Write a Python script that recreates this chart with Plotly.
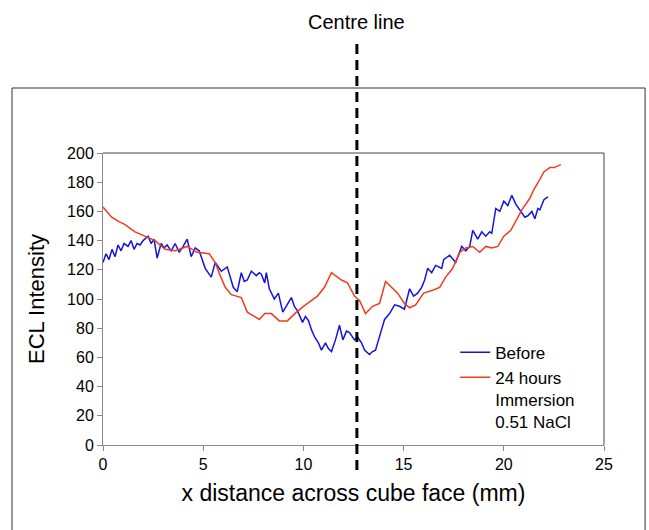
import plotly.graph_objects as go

# Before (blue)
before_x = [0.0, 0.15, 0.3, 0.45, 0.6, 0.75, 0.9, 1.05, 1.25, 1.4, 1.55, 1.7, 1.85, 2.0, 2.25, 2.4, 2.55, 2.7, 2.9, 3.05, 3.2,
            3.4, 3.6, 3.8, 4.0, 4.2, 4.4, 4.6, 4.8, 5.1, 5.4, 5.6, 5.9, 6.2, 6.5, 6.7, 6.9, 7.05, 7.2, 7.4, 7.65, 7.8, 7.9,
            8.07, 8.15, 8.3, 8.55, 8.75, 8.97, 9.2, 9.4, 9.55, 9.7, 9.96, 10.1, 10.26, 10.4, 10.56, 10.75, 10.9, 11.1, 11.25,
            11.4, 11.6, 11.8, 11.97, 12.15, 12.3, 12.55, 12.7, 12.9, 13.05, 13.3, 13.45, 13.6, 13.9, 14.05, 14.3, 14.55,
            14.8, 15.04, 15.3, 15.5, 15.7, 15.9, 16.05, 16.2, 16.4, 16.6, 16.9, 17.0, 17.3, 17.6, 17.9, 18.1, 18.3, 18.45,
            18.7, 18.9, 19.1, 19.3, 19.4, 19.6, 19.8, 20.0, 20.2, 20.4, 20.6, 20.75, 20.9, 21.05, 21.2, 21.4, 21.55, 21.7,
            21.8, 22.0, 22.2]
before_y = [125, 131, 127, 134, 129, 137, 133, 138, 136, 140, 134, 138, 137, 140, 143, 138, 141, 128, 138, 135, 137,
            133, 138, 132, 136, 141, 129, 135, 133, 121, 115, 125, 119, 122, 108, 105, 118, 112, 113, 119, 116, 118, 117,
            111, 118, 107, 100, 104, 91, 96, 101, 95, 92, 84, 88, 85, 79, 74, 70, 65, 70, 66, 64, 72, 82, 72, 78, 77,
            72, 74, 70, 65, 62, 64, 65, 79, 86, 90, 96, 95, 93, 107, 102, 104, 108, 113, 121, 118, 123, 121, 127, 130,
            125, 136, 133, 136, 147, 141, 146, 143, 146, 145, 162, 160, 167, 164, 171, 165, 162, 159, 156, 157, 160,
            155, 162, 161, 168, 170]

# 24 hours immersion (red)
after_x = [0.0, 0.43, 0.8, 1.1, 1.6, 2.1, 2.6, 3.1, 3.6, 4.2, 4.7, 5.3, 5.6, 5.85, 6.1, 6.4, 6.9, 7.2, 7.55, 7.8, 8.07,
           8.4, 8.8, 9.2, 9.65, 10.1, 10.7, 11.05, 11.4, 11.6, 11.9, 12.2, 12.55, 12.8, 13.1, 13.45, 13.8, 14.1, 14.4,
           14.7, 15.04, 15.3, 15.6, 16.0, 16.45, 16.8, 17.1, 17.45, 17.8, 18.1, 18.45, 18.8, 19.1, 19.4, 19.7, 20.0,
           20.35, 20.7, 20.9, 21.3, 21.5, 21.8, 22.0, 22.3, 22.5, 22.85]
after_y = [163, 156, 153, 151, 146, 143, 140, 134, 133, 136, 132, 131, 125, 116, 108, 103, 101, 91, 88, 86, 90,
           90, 85, 85, 91, 96, 102, 108, 118, 116, 113, 111, 102, 99, 90, 95, 97, 112, 108, 104, 97, 94, 96, 104,
           106, 108, 115, 121, 132, 135, 136, 132, 136, 135, 136, 143, 147, 156, 161, 169, 175, 182, 187, 190, 190,
           192]

x_ticks = [0, 5, 10, 15, 20, 25]
y_ticks = [0, 20, 40, 60, 80, 100, 120, 140, 160, 180, 200]
centre_x = 12.67

fig = go.Figure()
fig.add_trace(go.Scatter(x=before_x, y=before_y, mode="lines", name="Before",
                         line=dict(color="#1414dc", width=1.5)))
fig.add_trace(go.Scatter(x=after_x, y=after_y, mode="lines", name="24 hours<br>Immersion<br>0.51 NaCl",
                         line=dict(color="#f03c1e", width=1.5)))

font = "Liberation Sans, Arial, sans-serif"
fig.update_layout(
    width=649, height=530,
    margin=dict(l=103, r=45, t=153, b=85),
    paper_bgcolor="white", plot_bgcolor="white",
    font=dict(family=font, color="black"),
    showlegend=True,
    legend=dict(x=0.703, y=0.378, xanchor="left", yanchor="top", bgcolor="rgba(0,0,0,0)",
                font=dict(size=17, family=font), valign="top", tracegroupgap=12, itemwidth=30),
    xaxis=dict(range=[0, 25], tickvals=x_ticks, ticks="outside", ticklen=5, tickcolor="#888",
               showline=True, linecolor="#888", linewidth=1, showgrid=False, zeroline=False,
               tickfont=dict(size=16), title=dict(text="x distance across cube face (mm)", font=dict(size=23), standoff=12)),
    yaxis=dict(range=[0, 200], tickvals=y_ticks, ticks="outside", ticklen=5, tickcolor="#888",
               showline=True, linecolor="#888", linewidth=1, showgrid=False, zeroline=False,
               tickfont=dict(size=16), title=dict(text="ECL Intensity", font=dict(size=22), standoff=16)),
)

# plot-area top and right borders
fig.add_shape(type="line", xref="paper", yref="paper", x0=0, x1=1, y0=1, y1=1, line=dict(color="#444", width=1))
fig.add_shape(type="line", xref="paper", yref="paper", x0=1, x1=1, y0=0, y1=1, line=dict(color="#444", width=1))
# outer frame
fig.add_shape(type="rect", xref="paper", yref="paper", x0=-0.1816, x1=1.082, y0=-0.33, y1=1.2226,
              line=dict(color="#333", width=1), layer="below")
# centre line
fig.add_shape(type="line", xref="x", yref="paper", x0=centre_x, x1=centre_x, y0=-0.086, y1=1.387,
              line=dict(color="black", width=3, dash="10px,6px"))
fig.add_annotation(x=centre_x, xref="x", y=1.449, yref="paper", text="Centre line", showarrow=False,
                   font=dict(size=20, family=font, color="black"), xanchor="center", yanchor="middle")

fig.write_html("out.html")
